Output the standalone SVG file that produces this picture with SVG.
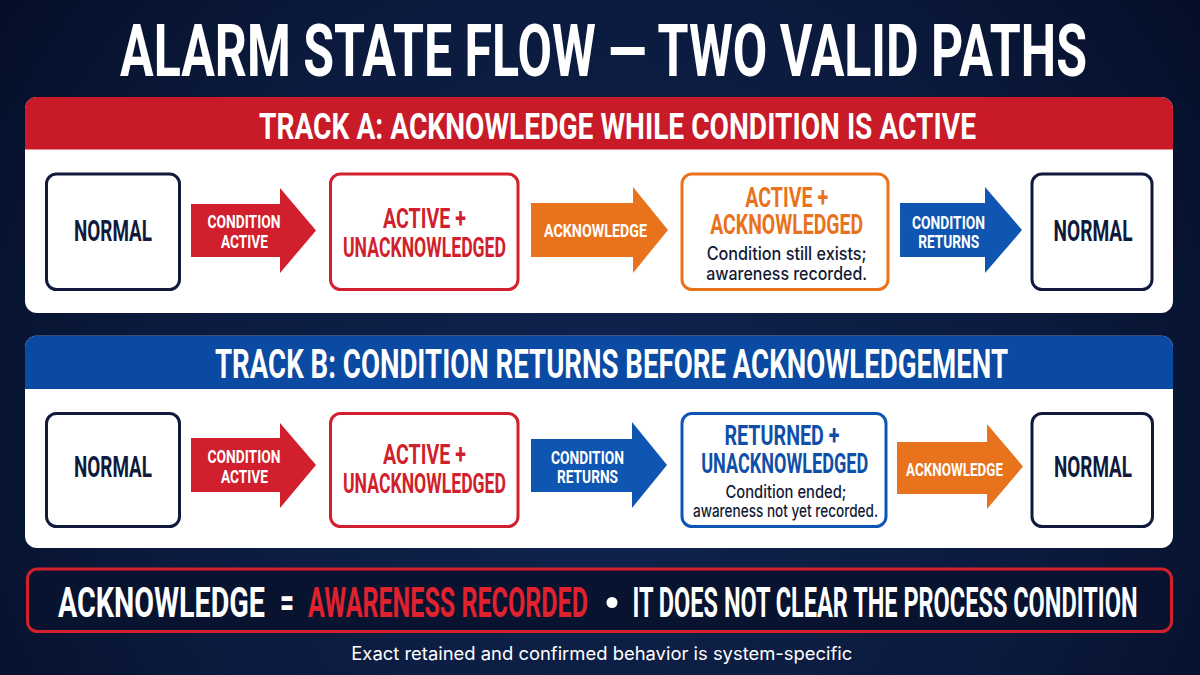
<svg xmlns="http://www.w3.org/2000/svg" width="1200" height="675" viewBox="0 0 1200 675">
<defs>
<radialGradient id="bg" cx="600" cy="420" r="760" gradientUnits="userSpaceOnUse">
<stop offset="0" stop-color="#10244f"/>
<stop offset="0.6" stop-color="#0b1a3d"/>
<stop offset="1" stop-color="#040d26"/>
</radialGradient>
<clipPath id="clipA"><rect x="25" y="97" width="1148" height="216" rx="12"/></clipPath>
<clipPath id="clipB"><rect x="25" y="335.5" width="1148" height="212.5" rx="12"/></clipPath>
</defs>
<style>
.cond{font-family:Roboto,"Open Sans","DejaVu Sans",sans-serif;font-weight:700;text-anchor:middle}
.body{font-family:Inter,Roboto,"Liberation Sans",sans-serif;font-weight:500;text-anchor:middle;fill:#121a35}
.white{fill:#ffffff}
.navy{fill:#0f1a3d}
.red{fill:#d11f2d}
.orange{fill:#e8731c}
.blue{fill:#0f4fa8}
.box{fill:#ffffff;stroke-width:3}
.bnavy{stroke:#0f1a3d}
.bred{stroke:#d11f2d}
.borange{stroke:#e8731c}
.bblue{stroke:#0f56b3}
.panel{fill:#ffffff}
</style>
<rect x="0" y="0" width="1200" height="675" fill="url(#bg)"/>

<text class="cond white" x="603.5" y="76" font-size="72" textLength="967" lengthAdjust="spacingAndGlyphs">ALARM STATE FLOW — TWO VALID PATHS</text>

<g id="trackA">
<g clip-path="url(#clipA)">
<rect class="panel" x="25" y="97" width="1148" height="216"/>
<rect x="25" y="97" width="1148" height="52.5" fill="#c91a27"/>
</g>
<text class="cond white" x="617.5" y="138.5" font-size="36" textLength="717" lengthAdjust="spacingAndGlyphs">TRACK A: ACKNOWLEDGE WHILE CONDITION IS ACTIVE</text>
</g>

<g id="trackB">
<g clip-path="url(#clipB)">
<rect class="panel" x="25" y="335.5" width="1148" height="212.5"/>
<rect x="25" y="335.5" width="1148" height="53.5" fill="#0b4aa2"/>
</g>
<text class="cond white" x="611.5" y="377.7" font-size="40" textLength="793" lengthAdjust="spacingAndGlyphs">TRACK B: CONDITION RETURNS BEFORE ACKNOWLEDGEMENT</text>
</g>

<g id="connectors">
<g id="a-arrow1">
<path d="M191,204 H280 V188 L316,230.5 L280,273 V257 H191 Z" fill="#d11f2d"/>
<text class="cond white" x="244" y="228" font-size="19" textLength="73" lengthAdjust="spacingAndGlyphs">CONDITION</text>
<text class="cond white" x="244.5" y="248" font-size="19" textLength="47" lengthAdjust="spacingAndGlyphs">ACTIVE</text>
</g>
<g id="a-arrow2">
<path d="M531,203 H633 V187 L668,230 L633,273 V257 H531 Z" fill="#e8731c"/>
<text class="cond white" x="595.5" y="237" font-size="18" textLength="103" lengthAdjust="spacingAndGlyphs">ACKNOWLEDGE</text>
</g>
<g id="a-arrow3">
<path d="M900,203 H985 V187 L1022,230 L985,273 V257 H900 Z" fill="#0f56b3"/>
<text class="cond white" x="948.5" y="229" font-size="19" textLength="73" lengthAdjust="spacingAndGlyphs">CONDITION</text>
<text class="cond white" x="948.7" y="248" font-size="19" textLength="61" lengthAdjust="spacingAndGlyphs">RETURNS</text>
</g>
<g id="b-arrow1">
<path d="M191,438 H280 V423 L316,465 L280,508 V492 H191 Z" fill="#d11f2d"/>
<text class="cond white" x="244" y="463" font-size="19" textLength="73" lengthAdjust="spacingAndGlyphs">CONDITION</text>
<text class="cond white" x="244.5" y="483" font-size="19" textLength="47" lengthAdjust="spacingAndGlyphs">ACTIVE</text>
</g>
<g id="b-arrow2">
<path d="M531,439 H632 V422 L667,465 L632,508 V492 H531 Z" fill="#0f56b3"/>
<text class="cond white" x="587.5" y="464" font-size="19" textLength="73" lengthAdjust="spacingAndGlyphs">CONDITION</text>
<text class="cond white" x="587.5" y="483" font-size="19" textLength="61" lengthAdjust="spacingAndGlyphs">RETURNS</text>
</g>
<g id="b-arrow3">
<path d="M897,442 H987 V424 L1023,466.5 L987,509 V494 H897 Z" fill="#e8731c"/>
<text class="cond white" x="954.5" y="476" font-size="18" textLength="97" lengthAdjust="spacingAndGlyphs">ACKNOWLEDGE</text>
</g>
</g>

<g id="a-normal1">
<rect class="box bnavy" x="46.5" y="174" width="133" height="115.5" rx="10"/>
<text class="cond navy" x="113" y="241" font-size="29" textLength="78" lengthAdjust="spacingAndGlyphs">NORMAL</text>
</g>
<g id="a-active-unack">
<rect class="box bred" x="330.5" y="174" width="187.5" height="115.5" rx="10"/>
<text class="cond red" x="424.5" y="228" font-size="28" textLength="83" lengthAdjust="spacingAndGlyphs">ACTIVE +</text>
<text class="cond red" x="424.5" y="257" font-size="28" textLength="163" lengthAdjust="spacingAndGlyphs">UNACKNOWLEDGED</text>
</g>
<g id="a-active-ack">
<rect class="box borange" x="682" y="174" width="206" height="115.5" rx="10"/>
<text class="cond orange" x="786.7" y="207" font-size="28" textLength="83" lengthAdjust="spacingAndGlyphs">ACTIVE +</text>
<text class="cond orange" x="786.7" y="234" font-size="28" textLength="153" lengthAdjust="spacingAndGlyphs">ACKNOWLEDGED</text>
<text class="body" x="786.7" y="260" font-size="18" textLength="160" lengthAdjust="spacingAndGlyphs">Condition still exists;</text>
<text class="body" x="786.7" y="280" font-size="18" textLength="161" lengthAdjust="spacingAndGlyphs">awareness recorded.</text>
</g>
<g id="a-normal2">
<rect class="box bnavy" x="1032" y="174" width="120" height="115.5" rx="10"/>
<text class="cond navy" x="1093" y="241" font-size="29" textLength="79" lengthAdjust="spacingAndGlyphs">NORMAL</text>
</g>

<g id="b-normal1">
<rect class="box bnavy" x="46.5" y="413.5" width="133" height="113" rx="10"/>
<text class="cond navy" x="113" y="476.7" font-size="29" textLength="78" lengthAdjust="spacingAndGlyphs">NORMAL</text>
</g>
<g id="b-active-unack">
<rect class="box bred" x="330.5" y="413.5" width="187.5" height="113" rx="10"/>
<text class="cond red" x="424.5" y="464" font-size="28" textLength="83" lengthAdjust="spacingAndGlyphs">ACTIVE +</text>
<text class="cond red" x="424.5" y="493" font-size="28" textLength="163" lengthAdjust="spacingAndGlyphs">UNACKNOWLEDGED</text>
</g>
<g id="b-returned-unack">
<rect class="box bblue" x="682" y="413.5" width="204" height="113" rx="10"/>
<text class="cond blue" x="782" y="445" font-size="28" textLength="115" lengthAdjust="spacingAndGlyphs">RETURNED +</text>
<text class="cond blue" x="784.7" y="473" font-size="28" textLength="167" lengthAdjust="spacingAndGlyphs">UNACKNOWLEDGED</text>
<text class="body" x="786" y="497.7" font-size="17" textLength="121" lengthAdjust="spacingAndGlyphs">Condition ended;</text>
<text class="body" x="785.5" y="516.7" font-size="17" textLength="185" lengthAdjust="spacingAndGlyphs">awareness not yet recorded.</text>
</g>
<g id="b-normal2">
<rect class="box bnavy" x="1032" y="413.5" width="120.5" height="113" rx="10"/>
<text class="cond navy" x="1093" y="477" font-size="29" textLength="78" lengthAdjust="spacingAndGlyphs">NORMAL</text>
</g>

<g id="banner">
<rect x="27.5" y="569" width="1144" height="62.5" rx="10" fill="#081330" stroke="#d4202c" stroke-width="3"/>
<text class="cond white" x="161.5" y="616.5" font-size="42" textLength="207" lengthAdjust="spacingAndGlyphs">ACKNOWLEDGE</text>
<text class="cond white" x="287" y="616.5" font-size="42" textLength="14" lengthAdjust="spacingAndGlyphs">=</text>
<text class="cond" fill="#e0212e" x="448" y="616.5" font-size="42" textLength="280" lengthAdjust="spacingAndGlyphs">AWARENESS RECORDED</text>
<circle cx="612" cy="602.5" r="5.5" fill="#ffffff"/>
<text class="cond white" x="885" y="616.5" font-size="42" textLength="505" lengthAdjust="spacingAndGlyphs">IT DOES NOT CLEAR THE PROCESS CONDITION</text>
</g>

<text x="601.8" y="660" font-family="Inter,Roboto,'Liberation Sans',sans-serif" font-size="18" fill="#ffffff" text-anchor="middle" textLength="501" lengthAdjust="spacingAndGlyphs">Exact retained and confirmed behavior is system-specific</text>
</svg>
